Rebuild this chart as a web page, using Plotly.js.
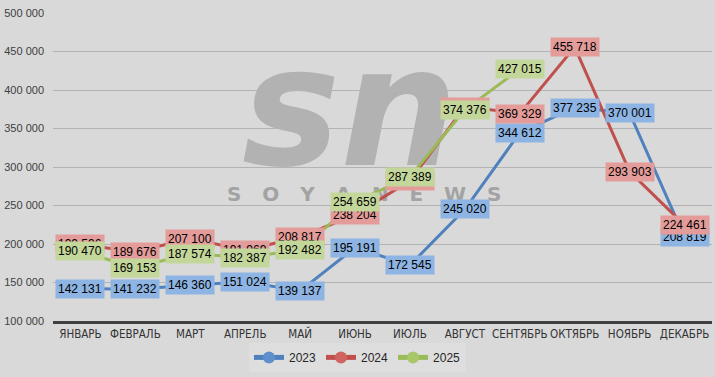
<!DOCTYPE html>
<html>
<head>
<meta charset="utf-8">
<script src="https://cdn.plot.ly/plotly-3.0.1.min.js"></script>
<style>
html,body{margin:0;padding:0;background:#d9d9d9;}
#chart{width:715px;height:377px;outline:1px solid #b3b3b3;outline-offset:-1px;}
</style>
</head>
<body>
<div id="chart"></div>
<script>
const months = ["ЯНВАРЬ","ФЕВРАЛЬ","МАРТ","АПРЕЛЬ","МАЙ","ИЮНЬ","ИЮЛЬ","АВГУСТ","СЕНТЯБРЬ","ОКТЯБРЬ","НОЯБРЬ","ДЕКАБРЬ"];
const v2023 = [142131,141232,146360,151024,139137,195191,172545,245020,344612,377235,370001,208819];
const v2024 = [199596,189676,207100,191969,208817,238204,282000,378500,369329,455718,293903,224461];
const v2025 = [190470,169153,187574,182387,192482,254659,287389,374376,427015,null,null,null];
const seriesNames = ["2023","2024","2025"];

const lineColors = ["#4f81bd","#c0504d","#9bbb59"];
const markerColors = ["#5f8fcc","#d06461","#a8c66a"];
const boxColors = ["#8db4e2","#e49c9a","#c4d79b"];
const allValues = [v2023, v2024, v2025];

function fmt(v){ return String(v).replace(/\B(?=(\d{3})+(?!\d))/g, " "); }

const traces = allValues.map((vals,i)=>({
  type:"scatter", mode:"lines+markers", name:seriesNames[i],
  x:months, y:vals,
  line:{color:lineColors[i], width:3},
  marker:{color:markerColors[i], size:17, symbol:"circle"},
  hoverinfo:"skip"
}));

const annotations = [
  {text:"<i>sn</i>", xref:"paper", yref:"paper", x:0.45, y:0.69, showarrow:false,
   font:{family:"DejaVu Sans", size:165, color:"#b2b2b2", weight:700}, xanchor:"center", yanchor:"middle"},
  {text:"<b>S   O   Y   A   N   E   W   S</b>", xref:"paper", yref:"paper", x:0.472, y:0.412, showarrow:false,
   font:{family:"DejaVu Sans", size:20, color:"#a3a3a3"}, xanchor:"center", yanchor:"middle"}
];
allValues.forEach((vals,i)=>{
  vals.forEach((v,j)=>{
    if(v===null) return;
    annotations.push({
      x:months[j], y:v, xref:"x", yref:"y", text:fmt(v), showarrow:false,
      xanchor:"center", yanchor:"middle",
      bgcolor:boxColors[i], borderpad:2,
      font:{family:"Liberation Sans", size:12, color:"#000000"}
    });
  });
});

const layout = {
  width:715, height:377,
  margin:{l:53, r:3, t:13, b:56, autoexpand:false},
  paper_bgcolor:"#d9d9d9", plot_bgcolor:"#d9d9d9",
  separators:". ",
  showlegend:true,
  legend:{orientation:"h", x:0.5, xanchor:"center", xref:"container",
    y:0.052, yanchor:"middle", yref:"container",
    bgcolor:"#dedede", font:{family:"Liberation Sans", size:12, color:"#262626"},
    itemwidth:30, itemsizing:"constant", tracegroupgap:0},
  xaxis:{type:"category", range:[-0.5,11.5], showgrid:false, showline:true,
    linecolor:"#404040", linewidth:3, ticks:"", tickangle:0, automargin:false,
    tickfont:{family:"Liberation Sans Narrow, DejaVu Sans Condensed, Roboto Condensed, Liberation Sans", size:11.5, color:"#333333"},
    fixedrange:true},
  yaxis:{range:[100000,500000], dtick:50000, tickformat:",d", showgrid:true, automargin:false,
    gridcolor:"#b3b3b3", gridwidth:1, zeroline:false, showline:false, ticks:"",
    ticklabelstandoff:8,
    tickfont:{family:"Liberation Sans", size:11, color:"#404040"}, fixedrange:true},
  annotations:annotations
};

Plotly.newPlot("chart", traces, layout, {displayModeBar:false, staticPlot:true}).then(gd=>{
  try{
    const below = gd.querySelector(".main-svg .layer-below");
    const wm = gd.querySelectorAll('.annotation[data-index="0"], .annotation[data-index="1"]');
    wm.forEach(n=>below.appendChild(n));
  }catch(e){}
});
</script>
</body>
</html>
